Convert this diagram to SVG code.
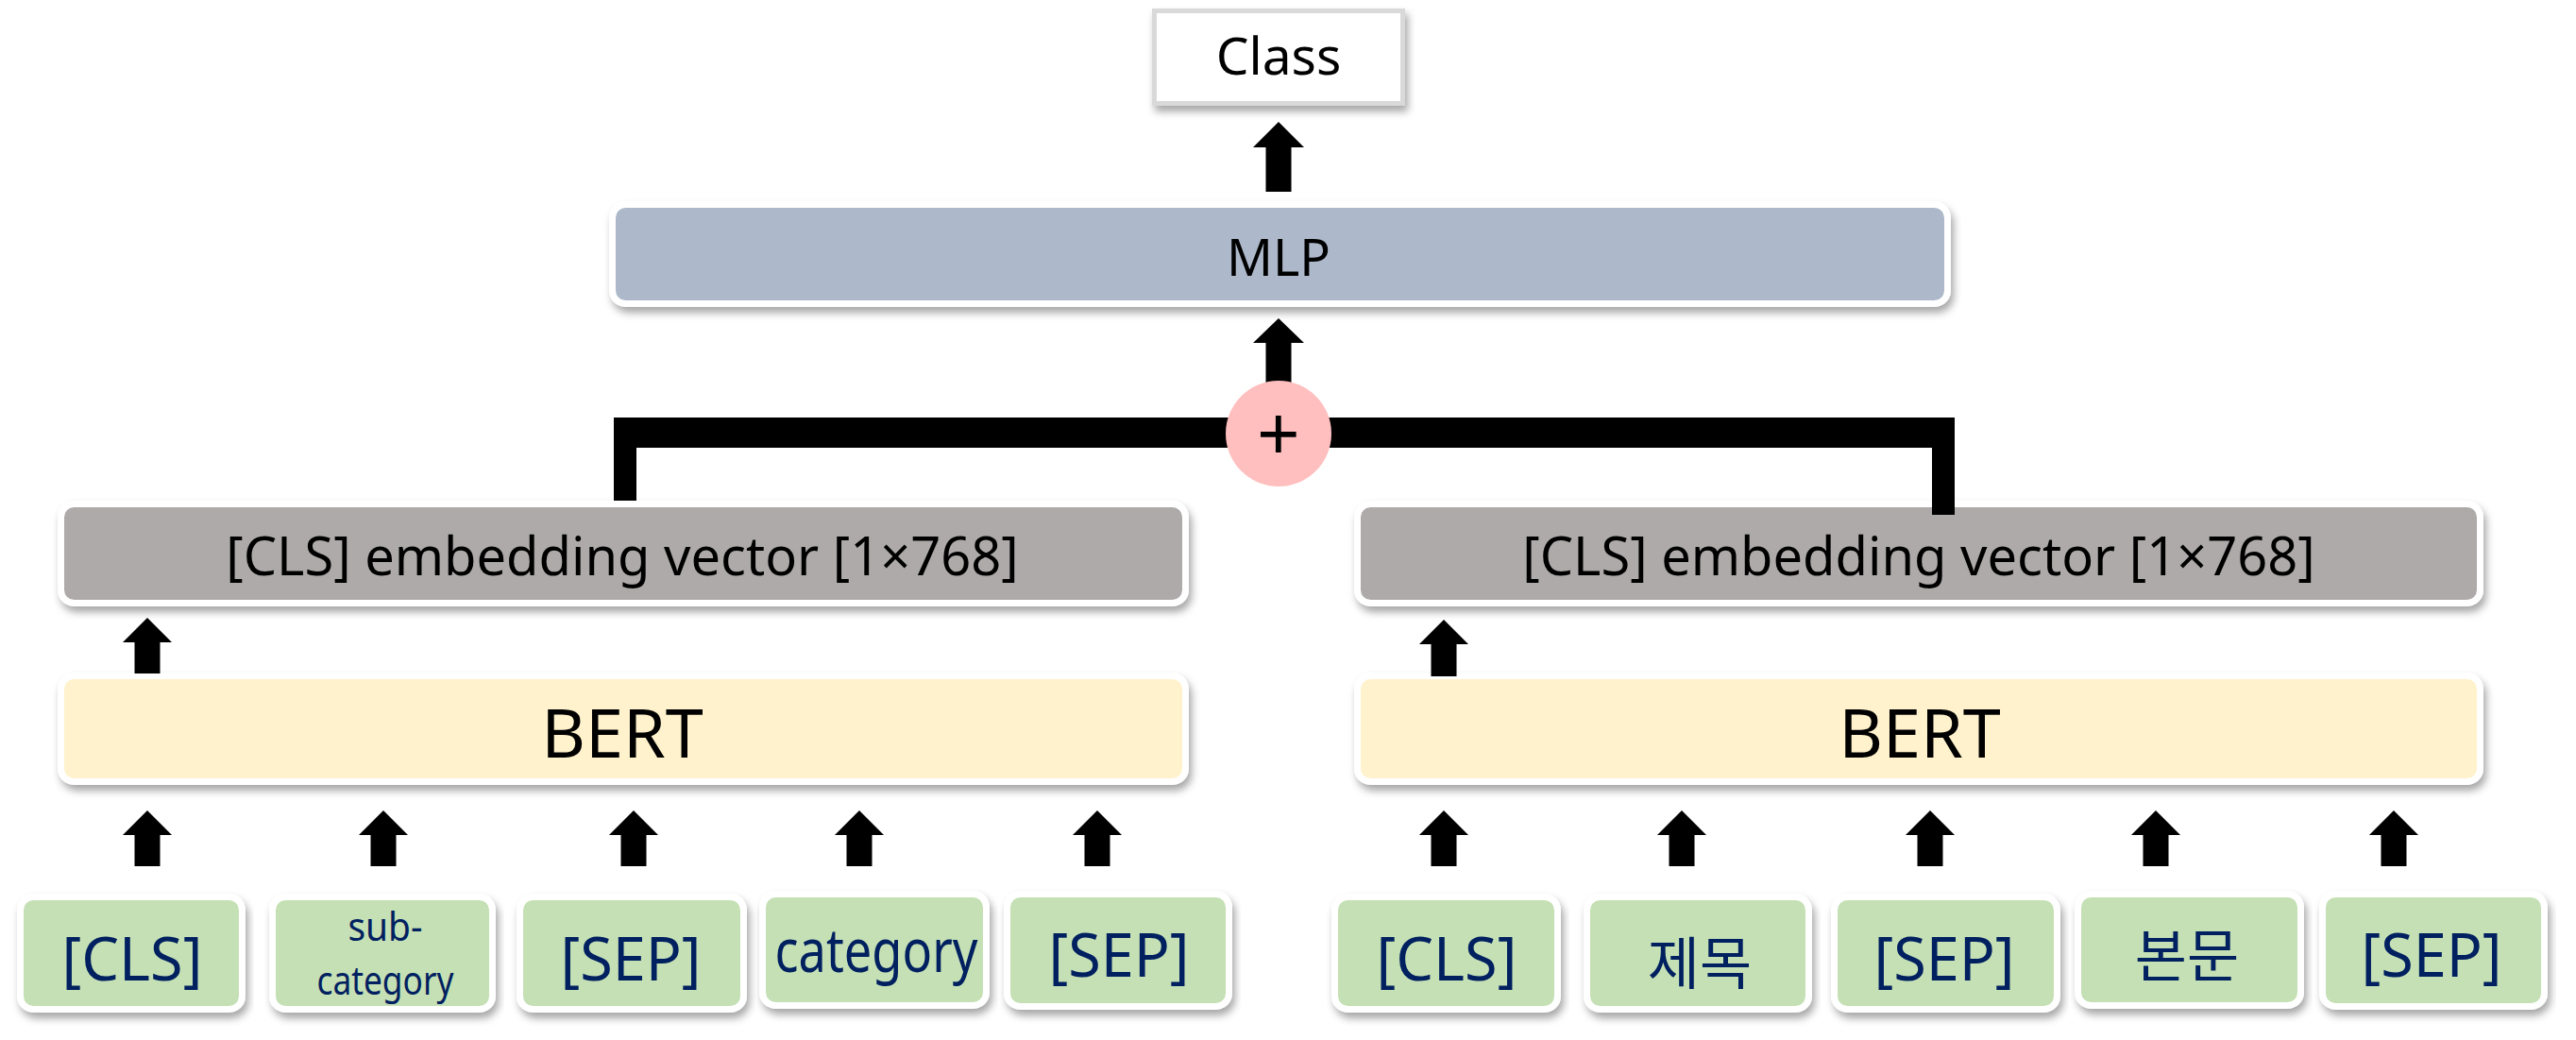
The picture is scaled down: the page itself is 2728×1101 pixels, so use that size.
<svg xmlns="http://www.w3.org/2000/svg" width="2728" height="1101" viewBox="0 0 2728 1101">
<defs>
<filter id="sh" x="-5%" y="-20%" width="110%" height="150%">
<feDropShadow dx="3" dy="6" stdDeviation="4" flood-color="#000" flood-opacity="0.35"/>
</filter>
<style>
text{font-family:"Noto Sans","Noto Sans CJK KR",sans-serif;text-anchor:middle;}
.box{stroke:#fff;stroke-width:7;filter:url(#sh);}
.mlp{fill:#adb9ca;}
.emb{fill:#aeaaaa;}
.bert{fill:#fff2cc;}
.tok{fill:#c5e0b4;}
.tt{fill:#002060;font-size:63px;}
.arr{fill:#000;}
</style>
</defs>
<rect width="2728" height="1101" fill="#fff"/>

<g id="class">
<rect x="1222.5" y="11.5" width="263" height="98" fill="#fff" stroke="#d9d9d9" stroke-width="5" filter="url(#sh)"/>
<text x="1354" y="79" font-size="55">Class</text>
</g>
<g id="mlp">
<rect class="box mlp" x="648.5" y="216.5" width="1414" height="105" rx="14"/>
<text x="1354" y="292" font-size="54">MLP</text>
</g>
<g id="emb-left">
<rect class="box emb" x="64.5" y="533.5" width="1191" height="105" rx="14"/>
<text x="659" y="609" font-size="56">[CLS] embedding vector [1×768]</text>
</g>
<g id="emb-right">
<rect class="box emb" x="1437.5" y="533.5" width="1189" height="105" rx="14"/>
<text x="2032" y="609" font-size="56">[CLS] embedding vector [1×768]</text>
</g>
<g id="bert-left">
<rect class="box bert" x="64.5" y="715.5" width="1191" height="112" rx="14"/>
<text x="659" y="802" font-size="72">BERT</text>
</g>
<g id="bert-right">
<rect class="box bert" x="1437.5" y="715.5" width="1189" height="112" rx="14"/>
<text x="2033" y="802" font-size="72">BERT</text>
</g>

<g id="tok-l1"><rect class="box tok" x="21.5" y="949.5" width="235" height="119" rx="14"/><text class="tt" x="140" y="1038">[CLS]</text></g>
<g id="tok-l2"><rect class="box tok" x="288.5" y="949.5" width="233" height="119" rx="14"/>
<text class="tt" x="408" y="996" style="font-size:42px" textLength="79" lengthAdjust="spacingAndGlyphs">sub-</text>
<text class="tt" x="408" y="1053" style="font-size:42px" textLength="145" lengthAdjust="spacingAndGlyphs">category</text></g>
<g id="tok-l3"><rect class="box tok" x="550.5" y="949.5" width="237" height="119" rx="14"/><text class="tt" x="668" y="1038">[SEP]</text></g>
<g id="tok-l4"><rect class="box tok" x="807.5" y="946.5" width="237" height="118" rx="14"/><text class="tt" x="928" y="1029" textLength="215" lengthAdjust="spacingAndGlyphs">category</text></g>
<g id="tok-l5"><rect class="box tok" x="1066.5" y="946.5" width="235" height="119" rx="14"/><text class="tt" x="1185" y="1034">[SEP]</text></g>

<g id="tok-r1"><rect class="box tok" x="1413.5" y="949.5" width="236" height="119" rx="14"/><text class="tt" x="1532" y="1038">[CLS]</text></g>
<g id="tok-r2"><rect class="box tok" x="1680.5" y="949.5" width="235" height="119" rx="14"/><text class="tt" x="1800" y="1042" style="font-size:60px">제목</text></g>
<g id="tok-r3"><rect class="box tok" x="1942.5" y="949.5" width="236" height="119" rx="14"/><text class="tt" x="2059" y="1038">[SEP]</text></g>
<g id="tok-r4"><rect class="box tok" x="2200.5" y="946.5" width="236" height="118" rx="14"/><text class="tt" x="2316" y="1034" style="font-size:60px">본문</text></g>
<g id="tok-r5"><rect class="box tok" x="2459.5" y="946.5" width="235" height="119" rx="14"/><text class="tt" x="2575" y="1034">[SEP]</text></g>

<g id="connectors">
<path class="arr" d="M650,442 H2070 V545 H2046 V474 H674 V530 H650 Z"/>
<path class="arr" d="M1354,129 L1381,156 H1367.5 V203 H1340.5 V156 H1327 Z"/>
<path class="arr" d="M1354,337 L1381,363 H1367.5 V405 H1340.5 V363 H1327 Z"/>
<path class="arr" d="M156,654 L182,680 H169.5 V713 H142.5 V680 H130 Z"/>
<path class="arr" d="M1529,656 L1555,682 H1542.5 V716 H1515.5 V682 H1503 Z"/>
<path class="arr" d="M156,858 L182,884 H169.5 V917 H142.5 V884 H130 Z"/>
<path class="arr" d="M406,858 L432,884 H419.5 V917 H392.5 V884 H380 Z"/>
<path class="arr" d="M671,858 L697,884 H684.5 V917 H657.5 V884 H645 Z"/>
<path class="arr" d="M910,858 L936,884 H923.5 V917 H896.5 V884 H884 Z"/>
<path class="arr" d="M1162,858 L1188,884 H1175.5 V917 H1148.5 V884 H1136 Z"/>
<path class="arr" d="M1529,858 L1555,884 H1542.5 V917 H1515.5 V884 H1503 Z"/>
<path class="arr" d="M1781,858 L1807,884 H1794.5 V917 H1767.5 V884 H1755 Z"/>
<path class="arr" d="M2044,858 L2070,884 H2057.5 V917 H2030.5 V884 H2018 Z"/>
<path class="arr" d="M2283,858 L2309,884 H2296.5 V917 H2269.5 V884 H2257 Z"/>
<path class="arr" d="M2535,858 L2561,884 H2548.5 V917 H2521.5 V884 H2509 Z"/>
</g>
<g id="plus">
<circle cx="1354" cy="459" r="56" fill="#ffbfbf"/>
<text x="1354" y="488" font-size="80">+</text>
</g>
</svg>
